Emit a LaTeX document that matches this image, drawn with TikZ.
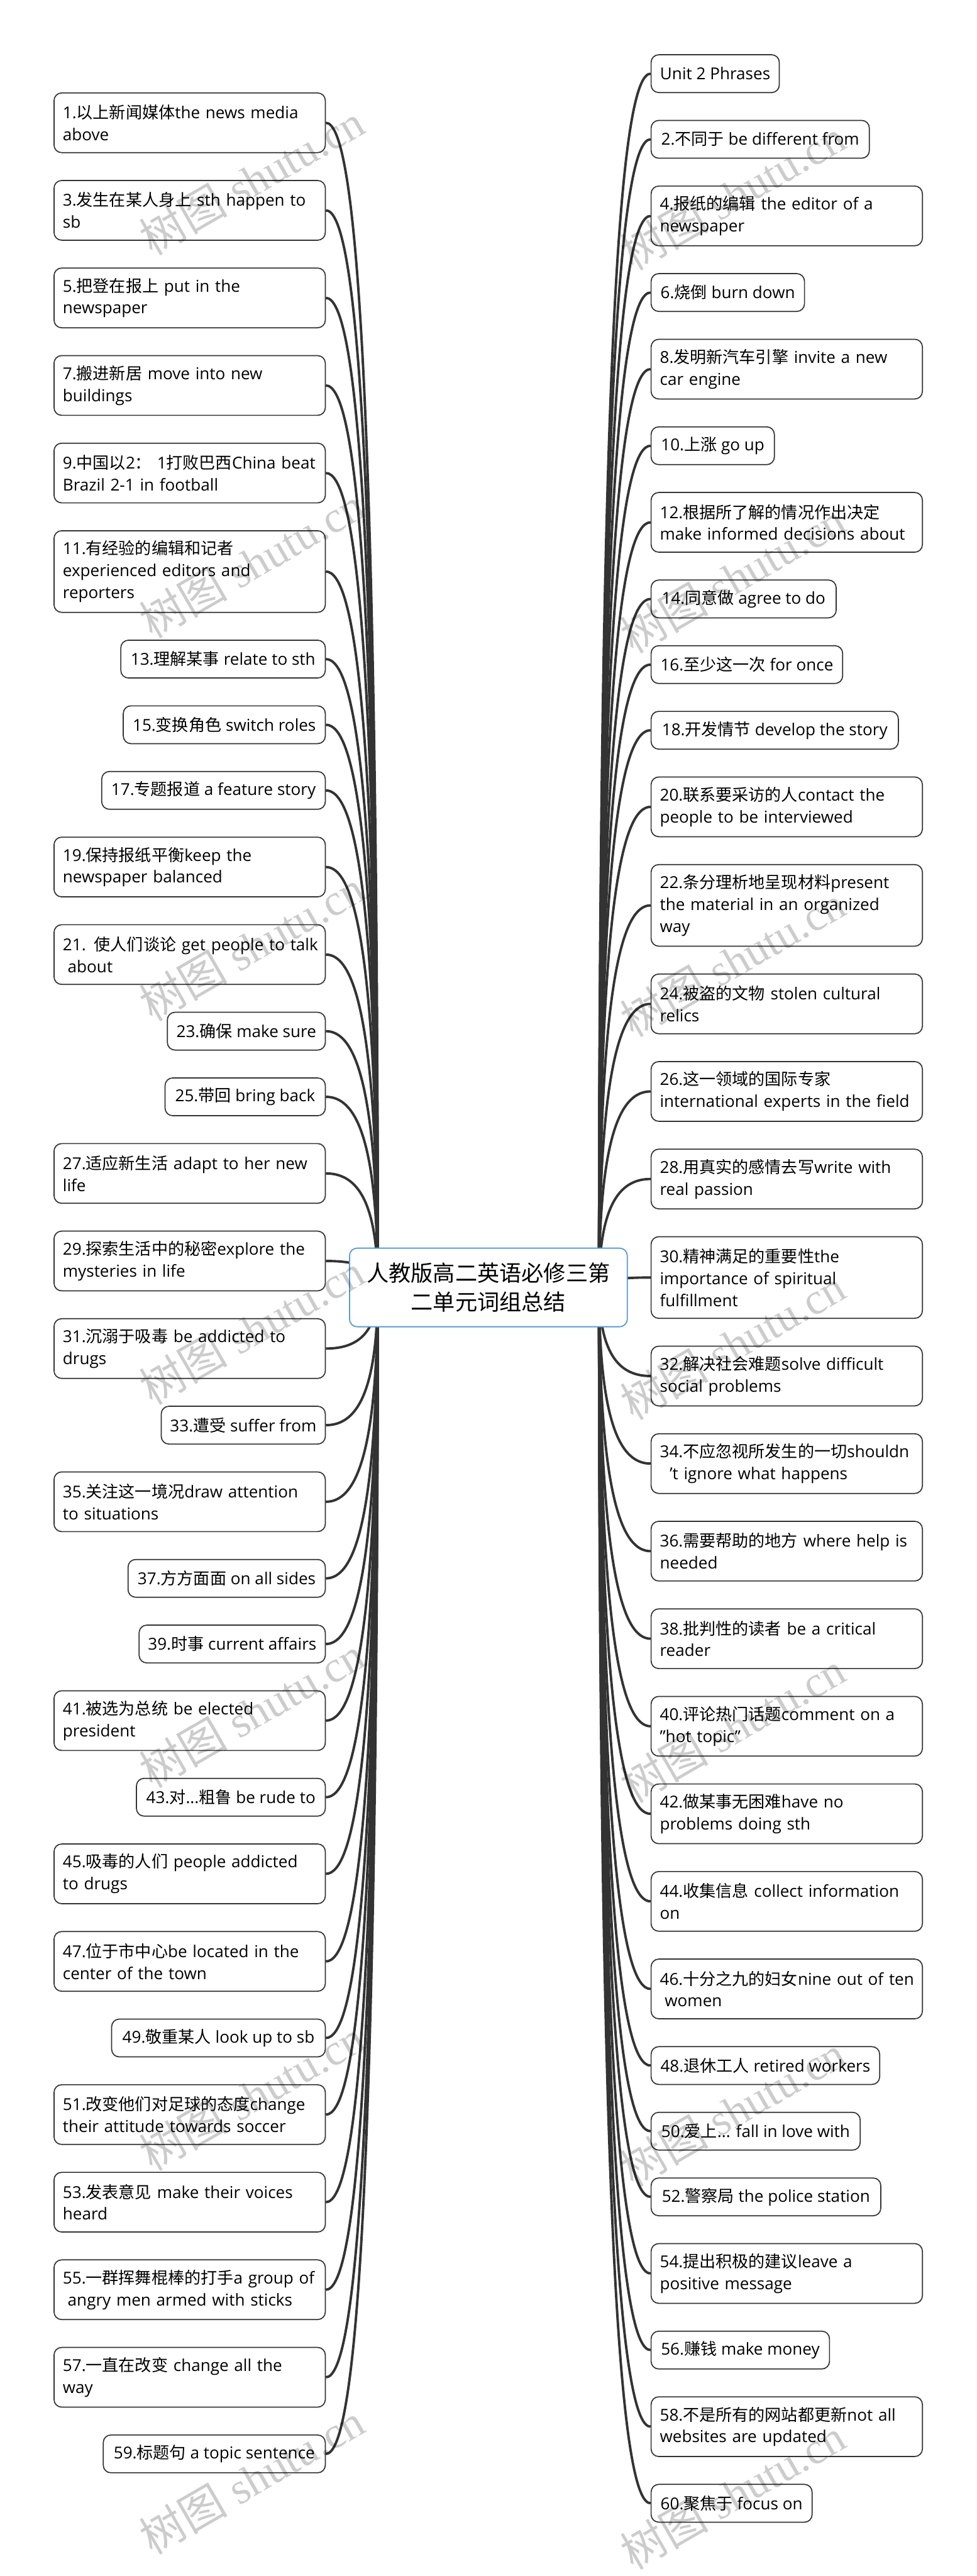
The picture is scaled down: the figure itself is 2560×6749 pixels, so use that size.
\documentclass[tikz,border=0pt]{standalone}
\usepackage{fontspec}
\usetikzlibrary{calc}
\setmainfont{Open Sans}
\newfontfamily\cjk{Noto Sans CJK SC}
\newfontfamily\wmfont{Liberation Serif}
\newcommand\zh[1]{{\cjk #1}}
\newcommand\ml[1]{\mbox{#1}}
\definecolor{linec}{HTML}{333333}
\definecolor{rootblue}{HTML}{5B9BD5}
\pgfdeclarelayer{back}
\pgfdeclarelayer{links}
\pgfdeclarelayer{front}
\pgfsetlayers{back,links,main,front}
\tikzset{
  leaf/.style={draw=linec, line width=1.4pt, rounded corners=10pt, fill=white,
    font=\fontsize{21.5}{28.7}\selectfont, inner xsep=11.5pt, inner ysep=3pt,
    minimum height=49.5pt, align=center},
  wide/.style={leaf, text width=332.5pt, align=left, minimum height=78.2pt},
  widethree/.style={wide, minimum height=106.9pt},
  lnode/.style={anchor=east},
  rnode/.style={anchor=west},
  conn/.style={draw=linec, line width=3.2pt},
  wm/.style={text=black, text opacity=0.2, rotate=30,
    font=\wmfont\fontsize{58}{60}\selectfont}
}
\begin{document}
\begin{tikzpicture}[x=0.5pt,y=-0.5pt]
\useasboundingbox (0,0) rectangle (2560,6749);
\begin{pgfonlayer}{back}
\fill[white] (0,0) rectangle (2560,6749);
\end{pgfonlayer}

\node[draw=rootblue, line width=1.5pt, rounded corners=10pt, fill=white,
  font=\cjk\fontsize{29}{38.5}\selectfont, align=center,
  minimum width=364pt, minimum height=103pt] (root) at (1280,3373)
  {人教版高二英语必修三第\\二单元词组总结};

% left column
\node[wide,lnode] (L1) at (854,321.7) {\ml{1.\zh{以上新闻媒体}the news media}\\above};
\node[wide,lnode] (L3) at (854,551.1) {\ml{3.\zh{发生在某人身上} sth happen to}\\sb};
\node[wide,lnode] (L5) at (854,780.5) {\ml{5.\zh{把登在报上} put in the}\\newspaper};
\node[wide,lnode] (L7) at (854,1009.9) {\ml{7.\zh{搬进新居} move into new}\\buildings};
\node[wide,lnode] (L9) at (854,1239.3) {\ml{9.\zh{中国以}2\zh{：} 1\zh{打败巴西}China beat}\\\ml{Brazil 2-1 in football}};
\node[widethree,lnode] (L11) at (854,1497.4) {11.\zh{有经验的编辑和记者}\\\ml{experienced editors and}\\reporters};
\node[leaf,lnode,minimum width=268pt] (L13) at (854,1726.8) {13.\zh{理解某事} relate to sth};
\node[leaf,lnode,minimum width=264.75pt] (L15) at (854,1898.8) {15.\zh{变换角色} switch roles};
\node[leaf,lnode,minimum width=293pt] (L17) at (854,2070.8) {17.\zh{专题报道} a feature story};
\node[wide,lnode] (L19) at (854,2271.5) {\ml{19.\zh{保持报纸平衡}keep the}\\\ml{newspaper balanced}};
\node[wide,lnode] (L21) at (854,2500.9) {\ml{21. \zh{使人们谈论} get people to talk}\\\hspace*{.3em}about};
\node[leaf,lnode,minimum width=207pt] (L23) at (854,2701.6) {23.\zh{确保} make sure};
\node[leaf,lnode,minimum width=210pt] (L25) at (854,2873.6) {25.\zh{带回} bring back};
\node[wide,lnode] (L27) at (854,3074.3) {\ml{27.\zh{适应新生活} adapt to her new}\\life};
\node[wide,lnode] (L29) at (854,3303.7) {\ml{29.\zh{探索生活中的秘密}explore the}\\\ml{mysteries in life}};
\node[wide,lnode] (L31) at (854,3533.1) {\ml{31.\zh{沉溺于吸毒} be addicted to}\\drugs};
\node[leaf,lnode,minimum width=215pt] (L33) at (854,3733.8) {33.\zh{遭受} suffer from};
\node[wide,lnode] (L35) at (854,3934.5) {\ml{35.\zh{关注这一境况}draw attention}\\\ml{to situations}};
\node[leaf,lnode,minimum width=258.5pt] (L37) at (854,4135.2) {37.\zh{方方面面} on all sides};
\node[leaf,lnode,minimum width=244pt] (L39) at (854,4307.2) {39.\zh{时事} current affairs};
\node[wide,lnode] (L41) at (854,4507.9) {\ml{41.\zh{被选为总统} be elected}\\president};
\node[leaf,lnode,minimum width=247.5pt] (L43) at (854,4708.6) {43.\zh{对}...\zh{粗鲁} be rude to};
\node[wide,lnode] (L45) at (854,4909.3) {\ml{45.\zh{吸毒的人们} people addicted}\\\ml{to drugs}};
\node[wide,lnode] (L47) at (854,5138.7) {\ml{47.\zh{位于市中心}be located in the}\\\ml{center of the town}};
\node[leaf,lnode,minimum width=280pt] (L49) at (854,5339.4) {49.\zh{敬重某人} look up to sb};
\node[wide,lnode] (L51) at (854,5540.1) {\ml{51.\zh{改变他们对足球的态度}change}\\\ml{their attitude towards soccer}};
\node[wide,lnode] (L53) at (854,5769.5) {\ml{53.\zh{发表意见} make their voices}\\heard};
\node[wide,lnode] (L55) at (854,5998.9) {\ml{55.\zh{一群挥舞棍棒的打手}a group of}\\\hspace*{.3em}\ml{angry men armed with sticks}};
\node[wide,lnode] (L57) at (854,6228.3) {\ml{57.\zh{一直在改变} change all the}\\way};
\node[leaf,lnode,minimum width=291pt] (L59) at (854,6429.0) {59.\zh{标题句} a topic sentence};

% right column
\node[leaf,rnode,minimum width=168pt] (R0) at (1705,193) {Unit 2 Phrases};
\node[leaf,rnode,minimum width=286pt] (R2) at (1705,365) {2.\zh{不同于} be different from};
\node[wide,rnode] (R4) at (1705,565.7) {\ml{4.\zh{报纸的编辑} the editor of a}\\newspaper};
\node[leaf,rnode,minimum width=201pt] (R6) at (1705,766.4) {6.\zh{烧倒} burn down};
\node[wide,rnode] (R8) at (1705,967.1) {\ml{8.\zh{发明新汽车引擎} invite a new}\\\ml{car engine}};
\node[leaf,rnode,minimum width=161.5pt] (R10) at (1705,1167.8) {10.\zh{上涨} go up};
\node[wide,rnode] (R12) at (1705,1368.5) {12.\zh{根据所了解的情况作出决定}\\\ml{make informed decisions about}};
\node[leaf,rnode,minimum width=242.5pt] (R14) at (1705,1569.2) {14.\zh{同意做} agree to do};
\node[leaf,rnode,minimum width=251pt] (R16) at (1705,1741.2) {16.\zh{至少这一次} for once};
\node[leaf,rnode,minimum width=324pt] (R18) at (1705,1913.2) {18.\zh{开发情节} develop the story};
\node[wide,rnode] (R20) at (1705,2113.9) {\ml{20.\zh{联系要采访的人}contact the}\\\ml{people to be interviewed}};
\node[widethree,rnode] (R22) at (1705,2372) {\ml{22.\zh{条分理析地呈现材料}present}\\\ml{the material in an organized}\\way};
\node[wide,rnode] (R24) at (1705,2630.1) {\ml{24.\zh{被盗的文物} stolen cultural}\\relics};
\node[wide,rnode] (R26) at (1705,2859.5) {26.\zh{这一领域的国际专家}\\\ml{international experts in the field}};
\node[wide,rnode] (R28) at (1705,3088.9) {\ml{28.\zh{用真实的感情去写}write with}\\\ml{real passion}};
\node[widethree,rnode] (R30) at (1705,3347) {30.\zh{精神满足的重要性}the\\\ml{importance of spiritual}\\fulfillment};
\node[wide,rnode] (R32) at (1705,3605.1) {\ml{32.\zh{解决社会难题}solve difficult}\\\ml{social problems}};
\node[wide,rnode] (R34) at (1705,3834.5) {\ml{34.\zh{不应忽视所发生的一切}shouldn}\\\hspace*{.6em}\ml{’t ignore what happens}};
\node[wide,rnode] (R36) at (1705,4063.9) {\ml{36.\zh{需要帮助的地方} where help is}\\needed};
\node[wide,rnode] (R38) at (1705,4293.3) {\ml{38.\zh{批判性的读者} be a critical}\\reader};
\node[wide,rnode] (R40) at (1705,4522.7) {\ml{40.\zh{评论热门话题}comment on a}\\\ml{"hot topic"}};
\node[wide,rnode] (R42) at (1705,4752.1) {\ml{42.\zh{做某事无困难}have no}\\\ml{problems doing sth}};
\node[wide,rnode] (R44) at (1705,4981.5) {\ml{44.\zh{收集信息} collect information}\\on};
\node[wide,rnode] (R46) at (1705,5210.9) {\ml{46.\zh{十分之九的妇女}nine out of ten}\\\hspace*{.3em}women};
\node[leaf,rnode,minimum width=299.5pt] (R48) at (1705,5411.6) {48.\zh{退休工人} retired workers};
\node[leaf,rnode,minimum width=274pt] (R50) at (1705,5583.6) {50.\zh{爱上}... fall in love with};
\node[leaf,rnode,minimum width=301pt] (R52) at (1705,5755.6) {52.\zh{警察局} the police station};
\node[wide,rnode] (R54) at (1705,5956.3) {\ml{54.\zh{提出积极的建议}leave a}\\\ml{positive message}};
\node[leaf,rnode,minimum width=233.75pt] (R56) at (1705,6157) {56.\zh{赚钱} make money};
\node[wide,rnode] (R58) at (1705,6357.7) {\ml{58.\zh{不是所有的网站都更新}not all}\\\ml{websites are updated}};
\node[leaf,rnode,minimum width=211pt] (R60) at (1705,6558.4) {60.\zh{聚焦于} focus on};

\coordinate (hubL) at (990,3373);
\coordinate (hubR) at (1570,3373);
\begin{pgfonlayer}{links}
\foreach \n in {1,3,...,59}{
  \draw[conn] (hubL) .. controls ($(hubL)!0.8!(hubL |- L\n.east)$)
    and ($(L\n.east)!0.55!(hubL |- L\n.east)$) .. (L\n.east);
}
\foreach \n in {0,2,4,...,60}{
  \draw[conn] (hubR) .. controls ($(hubR)!0.8!(hubR |- R\n.west)$)
    and ($(R\n.west)!0.55!(hubR |- R\n.west)$) .. (R\n.west);
}
\end{pgfonlayer}

\begin{pgfonlayer}{front}
\foreach \k in {0,...,6}{
  \node[wm] (wl\k) at (660,{470+1004*\k}) {\zh{树图} shutu.cn};
  \node[wm] (wr\k) at (1920,{510+1004*\k}) {\zh{树图} shutu.cn};
}
\end{pgfonlayer}
\end{tikzpicture}
\end{document}
